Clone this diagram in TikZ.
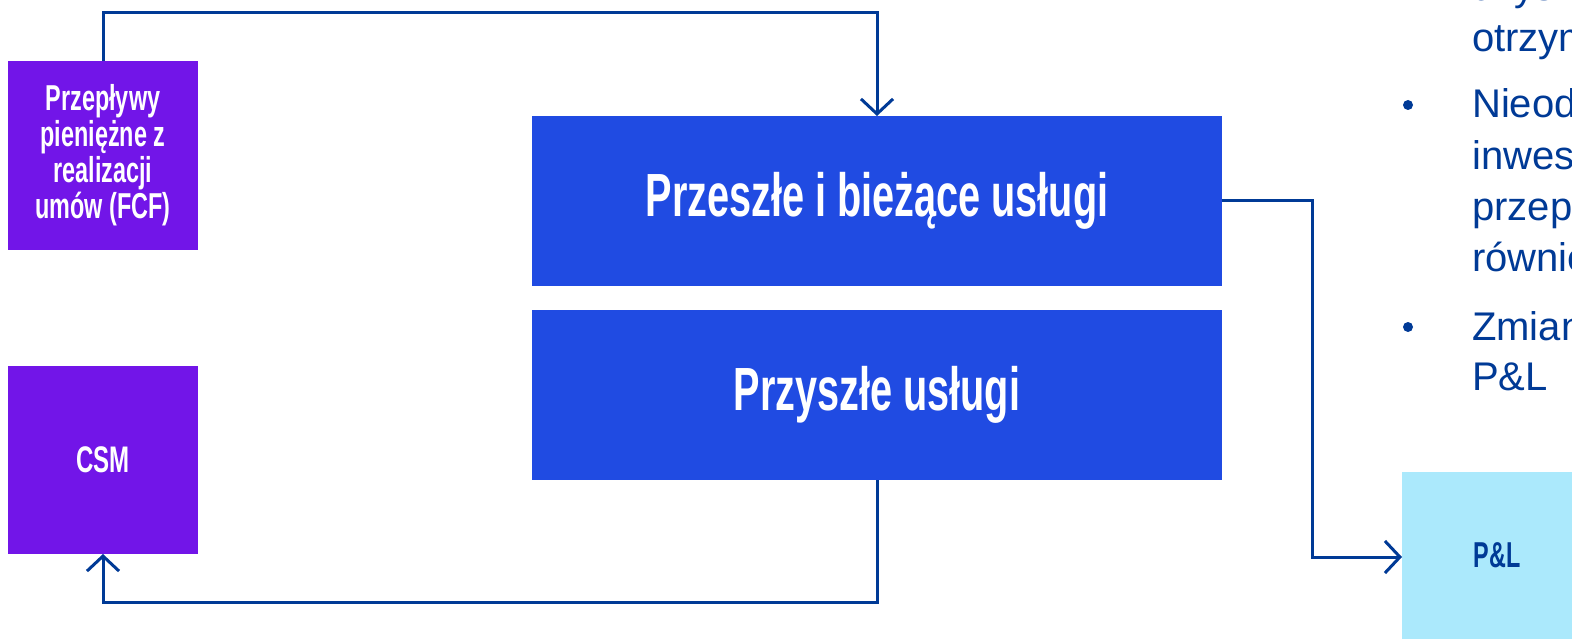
\documentclass[tikz,border=0pt]{standalone}
\usepackage{fontspec}
\setmainfont{Liberation Sans}
\newfontfamily\cond[FakeStretch=0.65]{Liberation Sans}
\usetikzlibrary{arrows.meta}
\definecolor{purp}{RGB}{114,21,232}
\definecolor{blu}{RGB}{32,75,226}
\definecolor{cyn}{RGB}{171,233,252}
\definecolor{navy}{RGB}{0,58,150}
\begin{document}
\begin{tikzpicture}[x=1pt,y=-1pt,
  box/.style={rectangle, inner sep=0pt, outer sep=0pt, text=white, align=center},
  conn/.style={draw=navy, line width=3pt},
  arr/.style={conn, -{Straight Barb[length=15pt,width=32pt]}},
  body/.style={anchor=base west, inner sep=0pt, text=navy, font=\fontsize{40}{48}\selectfont},
  bullet/.style={circle, fill=navy, inner sep=0pt, minimum size=10pt}]
\useasboundingbox (0,0) rectangle (1572,639);
\clip (0,0) rectangle (1572,639);
\fill[white] (0,0) rectangle (1572,639);
% boxes
\node[box, fill=purp, minimum width=190pt, minimum height=189pt,
  font=\cond\bfseries\fontsize{36}{36}\selectfont] (fcf) at (103,155.5)
  {Przepływy\\ pieniężne z\\ realizacji\\ umów (FCF)};
\node[box, fill=purp, minimum width=190pt, minimum height=188pt,
  font=\cond\bfseries\fontsize{37}{40}\selectfont] (csm) at (103,460) {CSM};
\node[box, fill=blu, minimum width=690pt, minimum height=170pt,
  font=\cond\bfseries\fontsize{61}{61}\selectfont] (top) at (877,201)
  {Przeszłe i bieżące usługi};
\node[box, fill=blu, minimum width=690pt, minimum height=170pt,
  font=\cond\bfseries\fontsize{61}{61}\selectfont] (bot) at (877,395)
  {Przyszłe usługi};
\node[box, fill=cyn, minimum width=200pt, minimum height=170pt, anchor=north west] (pl) at (1402,472) {};
\node[box, text=navy, font=\cond\bfseries\fontsize{36}{36}\selectfont] (pltext) at (1497,555) {P\&L};
% connectors
\draw[arr] (fcf.north) -- ++(0,-48) -| (top.north);
\draw[arr] (bot.south) -- ++(0,122) -| (csm.south);
\draw[arr] (top.east) -- ++(90,0) |- (pl.west);
% right text
\node[body] (t0) at (1472,1) {uzyskanych};
\node[body] (t1) at (1472,52) {otrzymanych};
\node[bullet] (b1) at (1408,105) {};
\node[body] (t2) at (1472,118) {Nieodrębne komponenty};
\node[body] (t3) at (1472,170) {inwestycyjne};
\node[body] (t4) at (1472,221) {przepływy pieniężne};
\node[body] (t5) at (1472,272) {również};
\node[bullet] (b2) at (1408,327) {};
\node[body] (t6) at (1472,340) {Zmiany ujmowane w};
\node[body] (t7) at (1472,390) {P\&L};
\end{tikzpicture}
\end{document}
